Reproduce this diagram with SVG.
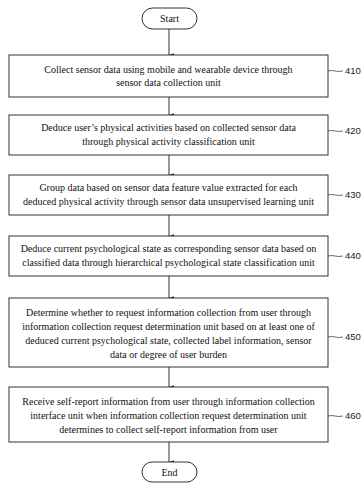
<svg xmlns="http://www.w3.org/2000/svg" width="364" height="487" viewBox="0 0 364 487">
<defs>
<style>
.box{fill:#fff;stroke:#333;stroke-width:1}
.term{fill:#fff;stroke:#333;stroke-width:1}
.t{font-family:"Liberation Serif","Times New Roman",serif;font-size:10px;fill:#111;text-anchor:middle}
.lbl{font-family:"Liberation Sans",Arial,sans-serif;font-size:9.5px;fill:#222}
.conn{stroke:#333;stroke-width:1;fill:none}
.lead{stroke:#444;stroke-width:0.8;fill:none}
</style>
<marker id="ah" viewBox="0 0 6 8" refX="3" refY="8" markerWidth="4" markerHeight="5" orient="auto-start-reverse" markerUnits="userSpaceOnUse">
<path d="M0,0 L6,0 L3,8 Z" fill="#222"/>
</marker>
</defs>
<rect width="364" height="487" fill="#fff"/>
<g id="connectors">
<line class="conn" x1="169" y1="29" x2="169" y2="55" marker-end="url(#ah)"/>
<line class="conn" x1="169" y1="97" x2="169" y2="115" marker-end="url(#ah)"/>
<line class="conn" x1="169" y1="155" x2="169" y2="175" marker-end="url(#ah)"/>
<line class="conn" x1="169" y1="215" x2="169" y2="236" marker-end="url(#ah)"/>
<line class="conn" x1="169" y1="276" x2="169" y2="298" marker-end="url(#ah)"/>
<line class="conn" x1="169" y1="367" x2="169" y2="387" marker-end="url(#ah)"/>
<line class="conn" x1="169" y1="442" x2="169" y2="462" marker-end="url(#ah)"/>
</g>
<g id="start">
<rect class="term" x="142" y="8" width="55" height="21" rx="10.5"/>
<text class="t" x="169.5" y="22">Start</text>
</g>
<g id="n410">
<rect class="box" x="9" y="55" width="319" height="42"/>
<text class="t" x="168.5" y="72.5">Collect sensor data using mobile and wearable device through</text>
<text class="t" x="168.5" y="86">sensor data collection unit</text>
<path class="lead" d="M328,71 q4,-1 7,0 t8,0"/>
<text class="lbl" x="345" y="74">410</text>
</g>
<g id="n420">
<rect class="box" x="9" y="115" width="319" height="40"/>
<text class="t" x="168.5" y="131">Deduce user’s physical activities based on collected sensor data</text>
<text class="t" x="168.5" y="145">through physical activity classification unit</text>
<path class="lead" d="M328,131 q4,-1 7,0 t8,0"/>
<text class="lbl" x="345" y="134">420</text>
</g>
<g id="n430">
<rect class="box" x="9" y="175" width="319" height="40"/>
<text class="t" x="168.5" y="191">Group data based on sensor data feature value extracted for each</text>
<text class="t" x="168.5" y="205">deduced physical activity through sensor data unsupervised learning unit</text>
<path class="lead" d="M328,195 q4,-1 7,0 t8,0"/>
<text class="lbl" x="345" y="198">430</text>
</g>
<g id="n440">
<rect class="box" x="9" y="236" width="319" height="40"/>
<text class="t" x="168.5" y="252">Deduce current psychological state as corresponding sensor data based on</text>
<text class="t" x="168.5" y="266">classified data through hierarchical psychological state classification unit</text>
<path class="lead" d="M328,256 q4,-1 7,0 t8,0"/>
<text class="lbl" x="345" y="259">440</text>
</g>
<g id="n450">
<rect class="box" x="9" y="298" width="319" height="69"/>
<text class="t" x="168.5" y="316">Determine whether to request information collection from user through</text>
<text class="t" x="168.5" y="330">information collection request determination unit based on at least one of</text>
<text class="t" x="168.5" y="344">deduced current psychological state, collected label information, sensor</text>
<text class="t" x="168.5" y="358">data or degree of user burden</text>
<path class="lead" d="M328,337 q4,-1 7,0 t8,0"/>
<text class="lbl" x="345" y="340">450</text>
</g>
<g id="n460">
<rect class="box" x="9" y="387" width="319" height="55"/>
<text class="t" x="168.5" y="405">Receive self-report information from user through information collection</text>
<text class="t" x="168.5" y="419">interface unit when information collection request determination unit</text>
<text class="t" x="168.5" y="433">determines to collect self-report information from user</text>
<path class="lead" d="M328,416 q4,-1 7,0 t8,0"/>
<text class="lbl" x="345" y="419">460</text>
</g>
<g id="end">
<rect class="term" x="142" y="462" width="55" height="20" rx="10"/>
<text class="t" x="169.5" y="475.5">End</text>
</g>
</svg>
